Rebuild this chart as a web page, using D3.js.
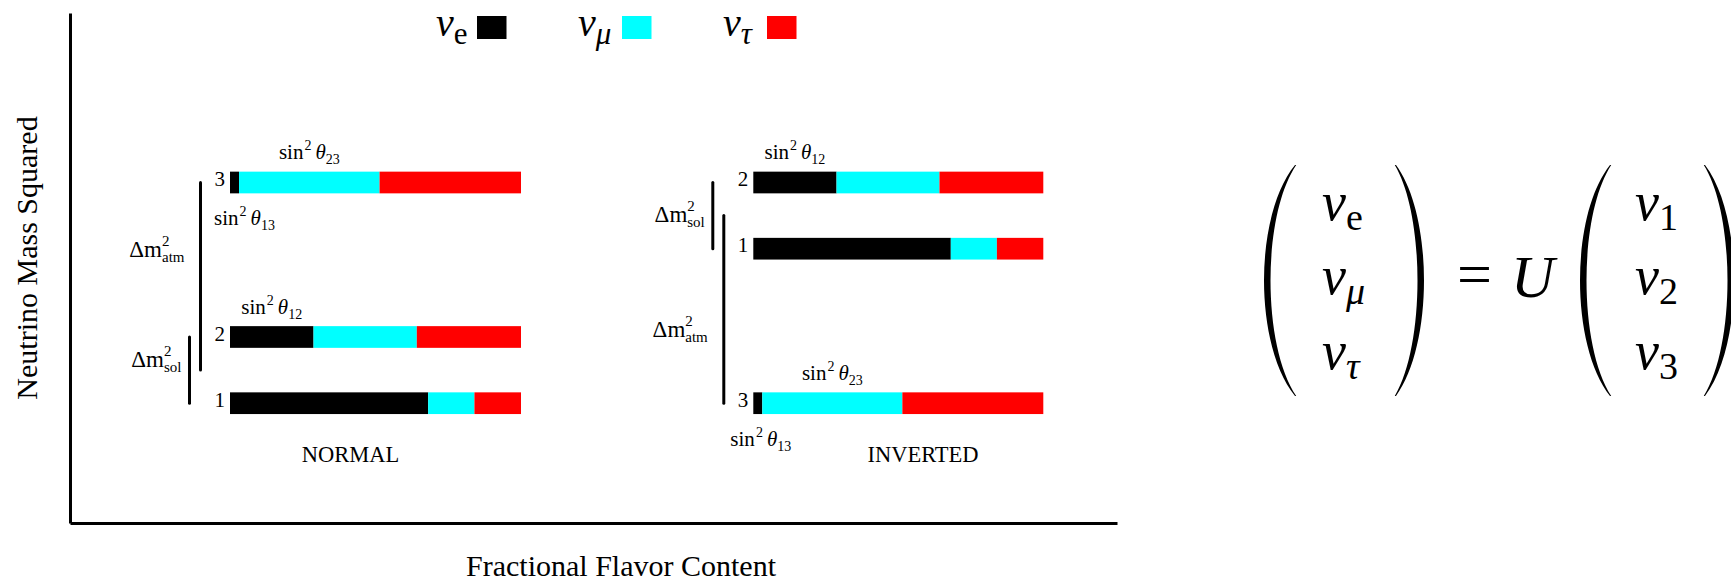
<!DOCTYPE html>
<html>
<head>
<meta charset="utf-8">
<script src="https://cdn.jsdelivr.net/npm/d3@7/dist/d3.min.js"></script>
<style>
  html, body { margin: 0; padding: 0; background: #ffffff; }
  svg { display: block; }
  text { font-family: "Liberation Serif", "Times New Roman", serif; fill: #000; }
</style>
</head>
<body>
<script>
// ---- data -------------------------------------------------------------
const massStates = ["1", "2", "3"];
const flavorKeys = ["e", "mu", "tau"];
const flavorSymbols = ["e", "μ", "τ"];

// relative mass-squared level of each state (1, 2, 3)
const normalMassSq = [0.0, 0.30, 1.0];
const invertedMassSq = [0.70, 1.0, 0.0];

// flavour content of each mass state (1, 2, 3)
const fracE = [0.681, 0.287, 0.031];
const fracMu = [0.159, 0.355, 0.483];
const fracTau = [0.160, 0.358, 0.486];

const hierarchyNames = ["NORMAL", "INVERTED"];
const axisTitleX = "Fractional Flavor Content";
const axisTitleY = "Neutrino Mass Squared";

// ---- setup ------------------------------------------------------------
const W = 1731, H = 581;
const svg = d3.select("body").append("svg").attr("width", W).attr("height", H);

const color = d3.scaleOrdinal().domain(flavorKeys).range(["#000000", "#00ffff", "#ff0000"]);

// mass-squared scale shared by both hierarchies
const y = d3.scaleLinear().domain([0, 1]).range([403.2, 182.5]);
const barH = 21.7;

const panels = [
  { name: hierarchyNames[0], mass: normalMassSq,
    x: d3.scaleLinear().domain([0, 1]).range([230, 521]),
    titleX: 350.5, atmLabelAt: 0.662, solLabelAt: 0.165, th13Shift: 10 },
  { name: hierarchyNames[1], mass: invertedMassSq,
    x: d3.scaleLinear().domain([0, 1]).range([753.3, 1043.3]),
    titleX: 923, atmLabelAt: 0.30, solLabelAt: 0.822, th13Shift: 3 }
];

// ---- frame axes (no ticks) ---------------------------------------------
const frameY = d3.scaleLinear().domain([0, 1]).range([523, 13]);
const frameX = d3.scaleLinear().domain([0, 1]).range([70, 1117]);
svg.append("g").attr("transform", "translate(70,0)")
  .call(d3.axisLeft(frameY).tickValues([]).tickSizeOuter(0))
  .select(".domain").attr("stroke", "#000").attr("stroke-width", 3);
svg.append("g").attr("transform", "translate(0,523)")
  .call(d3.axisBottom(frameX).tickValues([]).tickSizeOuter(0))
  .select(".domain").attr("stroke", "#000").attr("stroke-width", 3);

svg.append("text")
  .attr("x", 621).attr("y", 576)
  .attr("text-anchor", "middle").attr("font-size", 30)
  .text(axisTitleX);
svg.append("text")
  .attr("transform", "translate(37,258) rotate(-90)")
  .attr("text-anchor", "middle").attr("font-size", 30)
  .text(axisTitleY);

// ---- helpers ------------------------------------------------------------
function sinLabel(g, x, yb, sub, anchor) {
  const t = g.append("text").attr("x", x).attr("y", yb)
    .attr("text-anchor", anchor).attr("font-size", 21);
  t.append("tspan").text("sin");
  t.append("tspan").attr("font-size", 14).attr("dy", -9).attr("dx", 1).text("2");
  t.append("tspan").attr("font-style", "italic").attr("dy", 9).attr("dx", 4).text("θ");
  t.append("tspan").attr("font-size", 14).attr("dy", 5).text(sub);
}

function deltaLabel(g, x, yb, sub) {
  const t = g.append("text").attr("x", x).attr("y", yb)
    .attr("text-anchor", "end").attr("font-size", 23);
  t.append("tspan").text("Δm");
  t.append("tspan").attr("font-size", 15).attr("dy", -11).text("2");
  t.append("tspan").attr("font-size", 15).attr("dx", -7.5).attr("dy", 16).text(sub);
}

// ---- hierarchies --------------------------------------------------------
const stack = d3.stack().keys(flavorKeys);

panels.forEach(p => {
  const g = svg.append("g").attr("class", "hierarchy");
  const rows = massStates.map((s, i) => ({
    state: s, m: p.mass[i], e: fracE[i], mu: fracMu[i], tau: fracTau[i]
  }));
  const series = stack(rows);

  g.selectAll("g.flavor").data(series).join("g")
    .attr("class", "flavor")
    .attr("fill", d => color(d.key))
    .selectAll("rect").data(d => d).join("rect")
      .attr("x", d => p.x(d[0]))
      .attr("width", d => p.x(d[1]) - p.x(d[0]))
      .attr("y", d => y(d.data.m) - barH / 2)
      .attr("height", barH);

  // mass state numbers
  g.selectAll("text.state").data(rows).join("text")
    .attr("class", "state")
    .attr("x", p.x(0) - 5)
    .attr("y", d => y(d.m) + 3.6)
    .attr("text-anchor", "end").attr("font-size", 21)
    .text(d => d.state);

  // splitting brackets
  const m1 = p.mass[0], m2 = p.mass[1], m3 = p.mass[2];
  const xAtm = p.x(0) - 29.5, xSol = p.x(0) - 40.5;
  g.append("line").attr("x1", xAtm).attr("x2", xAtm)
    .attr("y1", y(m3)).attr("y2", y((m1 + m2) / 2))
    .attr("stroke", "#000").attr("stroke-width", 3).attr("stroke-linecap", "round");
  g.append("line").attr("x1", xSol).attr("x2", xSol)
    .attr("y1", y(m2)).attr("y2", y(m1))
    .attr("stroke", "#000").attr("stroke-width", 3).attr("stroke-linecap", "round");
  deltaLabel(g, xAtm - 16, y(p.atmLabelAt), "atm");
  deltaLabel(g, xSol - 8, y(p.solLabelAt), "sol");

  // mixing angle annotations
  const s2 = series[0][1], s3mu = series[1][2], s3e = series[0][2];
  sinLabel(g, p.x((s2[0] + s2[1]) / 2), y(m2) - barH / 2 - 12.5, "12", "middle");
  sinLabel(g, p.x((s3mu[0] + s3mu[1]) / 2), y(m3) - barH / 2 - 12.5, "23", "middle");
  sinLabel(g, p.x((s3e[0] + s3e[1]) / 2) + p.th13Shift, y(m3) + barH / 2 + 32, "13", "middle");

  g.append("text").attr("x", p.titleX).attr("y", 462)
    .attr("text-anchor", "middle").attr("font-size", 22.5)
    .text(p.name);
});

// ---- legend ---------------------------------------------------------------
const legendX = [436, 578, 723];
const legendBoxX = [477, 622, 767];
flavorKeys.forEach((k, i) => {
  const t = svg.append("text").attr("x", legendX[i]).attr("y", 36)
    .attr("font-size", 40).attr("font-style", "italic");
  t.append("tspan").text("ν");
  t.append("tspan").attr("font-size", 31).attr("dy", 8)
    .attr("font-style", k === "e" ? "normal" : "italic")
    .text(flavorSymbols[i]);
  svg.append("rect").attr("x", legendBoxX[i]).attr("y", 16)
    .attr("width", 29.5).attr("height", 23).attr("fill", color(k));
});

// ---- mixing relation -------------------------------------------------------
function paren(tipX, bulgeX, top, bottom, thick) {
  // filled crescent: outer curve down, inner curve back up
  const h = bottom - top;
  const dir = Math.sign(tipX - bulgeX);
  const c1 = (bulgeX - 0.25 * tipX) / 0.75;
  const inner = bulgeX + dir * thick;
  const tip2 = tipX + dir * 1.2;
  const c2 = (inner - 0.25 * tip2) / 0.75;
  return `M${tipX},${top} C${c1},${top + h * 0.22} ${c1},${bottom - h * 0.22} ${tipX},${bottom}` +
         ` L${tip2},${bottom} C${c2},${bottom - h * 0.22} ${c2},${top + h * 0.22} ${tip2},${top} Z`;
}
const matrixTop = 165, matrixBottom = 396;
const parens = [[1295, 1264], [1396, 1424], [1610, 1580], [1705, 1734]];
svg.selectAll("path.paren").data(parens).join("path")
  .attr("class", "paren")
  .attr("d", d => paren(d[0], d[1], matrixTop, matrixBottom, 6.5))
  .attr("fill", "#000");

const rowBase = [220, 294, 369];
const flavorSubs = ["e", "μ", "τ"];
const massSubs = ["1", "2", "3"];
rowBase.forEach((yb, i) => {
  const a = svg.append("text").attr("x", 1322).attr("y", yb).attr("font-size", 54);
  a.append("tspan").attr("font-style", "italic").text("ν");
  a.append("tspan").attr("font-size", 38).attr("dy", 10)
    .attr("font-style", i === 0 ? "normal" : "italic").text(flavorSubs[i]);
  const b = svg.append("text").attr("x", 1635).attr("y", yb).attr("font-size", 54);
  b.append("tspan").attr("font-style", "italic").text("ν");
  b.append("tspan").attr("font-size", 38).attr("dy", 10).text(massSubs[i]);
});
svg.append("text").attr("x", 1457).attr("y", 295).attr("font-size", 62).text("=");
svg.append("text").attr("x", 1511).attr("y", 297).attr("font-size", 60)
  .attr("font-style", "italic").text("U");
</script>
</body>
</html>
